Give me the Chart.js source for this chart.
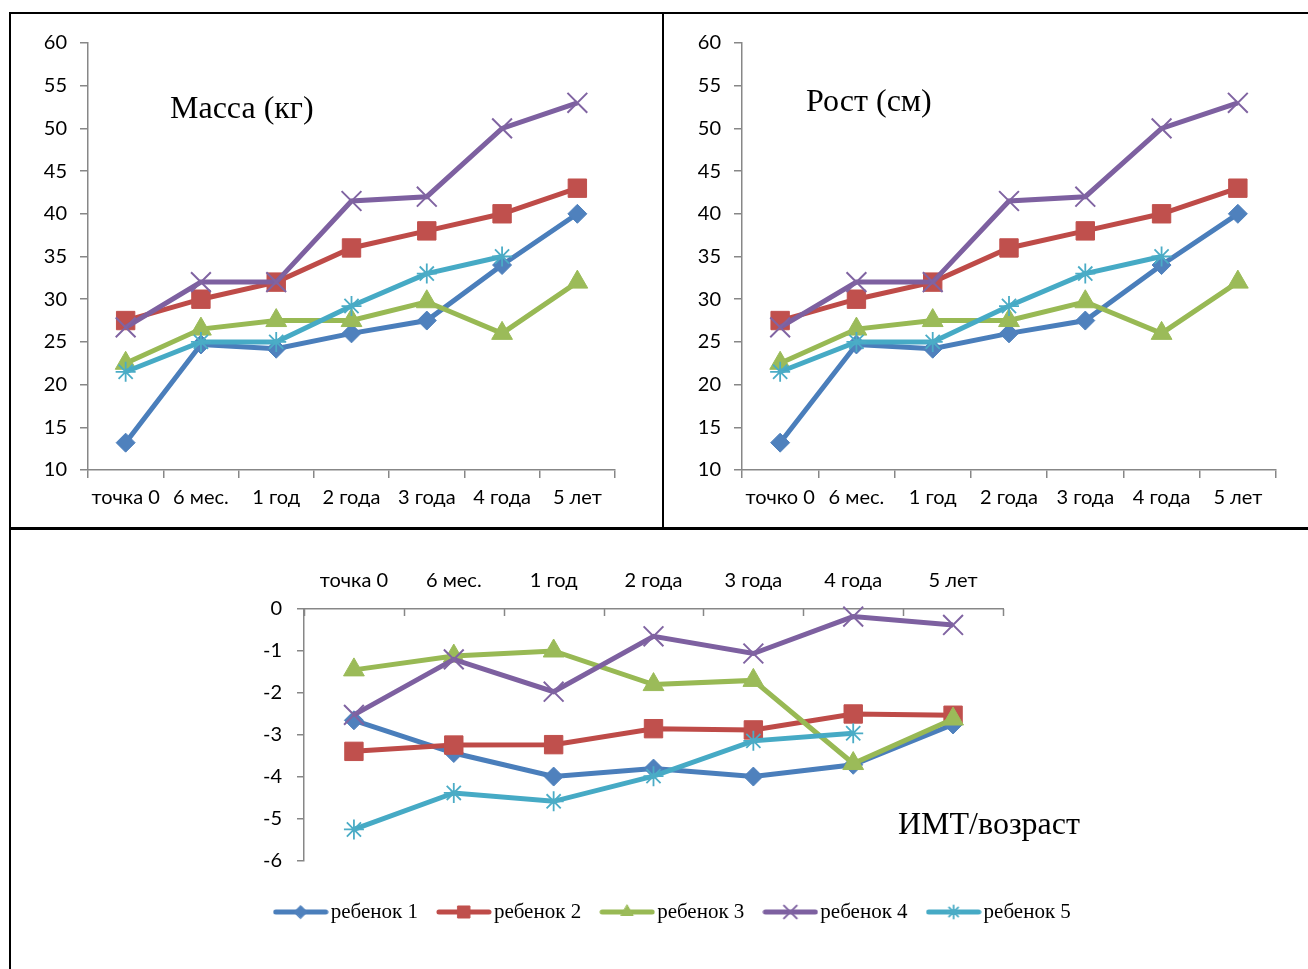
<!DOCTYPE html>
<html lang="ru">
<head>
<meta charset="utf-8">
<title>Масса, рост и ИМТ/возраст</title>
<script src="https://cdn.jsdelivr.net/npm/chart.js@4.4.1/dist/chart.umd.min.js"></script>
<style>
  html, body { margin: 0; padding: 0; background: #fff; overflow: hidden; }
  body { width: 1308px; height: 969px; position: relative; }
  .rule { position: absolute; background: #000; }
  canvas { position: absolute; }
  .title { position: absolute; font-family: "Liberation Serif", "Times New Roman", serif;
           font-size: 32px; line-height: 32px; color: #000; white-space: nowrap; }
</style>
</head>
<body>
<!-- panel frame -->
<div class="rule" style="left:9px;top:12px;width:1299px;height:2px"></div>
<div class="rule" style="left:9px;top:12px;width:2px;height:957px"></div>
<div class="rule" style="left:662px;top:12px;width:2px;height:516px"></div>
<div class="rule" style="left:9px;top:527px;width:1299px;height:2.5px"></div>

<canvas id="massChart" width="648" height="510" style="left:12px;top:15px"></canvas>
<canvas id="heightChart" width="643" height="510" style="left:665px;top:15px"></canvas>
<canvas id="bmiChart" width="1296" height="439" style="left:12px;top:530px"></canvas>

<div class="title" style="left:170px;top:91px">Масса (кг)</div>
<div class="title" style="left:806px;top:84px">Рост (см)</div>
<div class="title" style="left:898px;top:807px">ИМТ/возраст</div>

<script>
// ---- data ----
const periodsMass   = ['точка 0', '6 мес.', '1 год', '2 года', '3 года', '4 года', '5 лет'];
const periodsHeight = ['точко 0', '6 мес.', '1 год', '2 года', '3 года', '4 года', '5 лет'];
const periodsBmi    = ['точка 0', '6 мес.', '1 год', '2 года', '3 года', '4 года', '5 лет'];
const childNames = ['ребенок 1', 'ребенок 2', 'ребенок 3', 'ребенок 4', 'ребенок 5'];

const massChild1 = [13.2, 24.7, 24.2, 26.0, 27.5, 34.0, 40.0];
const massChild2 = [27.5, 30.0, 32.0, 36.0, 38.0, 40.0, 43.0];
const massChild3 = [22.5, 26.5, 27.5, 27.5, 29.7, 26.0, 32.0];
const massChild4 = [26.7, 32.0, 32.0, 41.5, 42.0, 50.0, 53.0];
const massChild5 = [21.5, 25.0, 25.0, 29.2, 33.0, 35.0, null];

const heightChild1 = [13.2, 24.7, 24.2, 26.0, 27.5, 34.0, 40.0];
const heightChild2 = [27.5, 30.0, 32.0, 36.0, 38.0, 40.0, 43.0];
const heightChild3 = [22.5, 26.5, 27.5, 27.5, 29.7, 26.0, 32.0];
const heightChild4 = [26.7, 32.0, 32.0, 41.5, 42.0, 50.0, 53.0];
const heightChild5 = [21.5, 25.0, 25.0, 29.2, 33.0, 35.0, null];

const bmiChild1 = [-2.65, -3.43, -3.99, -3.80, -3.99, -3.71, -2.75];
const bmiChild2 = [-3.39, -3.24, -3.23, -2.85, -2.88, -2.50, -2.53];
const bmiChild3 = [-1.45, -1.12, -1.00, -1.80, -1.70, -3.68, -2.62];
const bmiChild4 = [-2.52, -1.20, -1.97, -0.65, -1.06, -0.18, -0.38];
const bmiChild5 = [-5.25, -4.38, -4.58, -3.98, -3.14, -2.96, null];

const topTicks = { min: 10, max: 60, step: 5 };
const bmiTicks = { min: -6, max: 0, step: 1 };

// ---- styling ----
const AXIS = '#878787';
const TICK_FONT = { family: 'Lato, "Open Sans", sans-serif', size: 20 };
const seriesStyle = [
  { line: '#4A7EBB', fill: '#4F81BD', point: 'rectRot',  r: 9.5, bw: 1, lr: 6.5 },
  { line: '#BE4B48', fill: '#C0504D', point: 'rect',     r: 13,  bw: 1, lr: 8.5 },
  { line: '#98B954', fill: '#9BBB59', point: 'triangle', r: 12,  bw: 1, lr: 7 },
  { line: '#7D60A0', fill: '#8064A2', point: 'crossRot', r: 14,  bw: 2, lr: 9 },
  { line: '#46AAC5', fill: '#4BACC6', point: 'star',     r: 10,  bw: 1.8, lr: 6.5 }
];

function makeDatasets(seriesList) {
  return seriesList.map((values, i) => {
    const s = seriesStyle[i];
    return {
      label: childNames[i],
      data: values,
      borderColor: s.line,
      borderWidth: 5,
      backgroundColor: s.fill,
      pointStyle: s.point,
      pointRadius: s.r,
      pointBorderColor: s.fill,
      pointBackgroundColor: s.fill,
      pointBorderWidth: s.bw,
      tension: 0,
      clip: false,
      order: seriesList.length - i   // later series drawn on top
    };
  });
}

function fixedWidth(w) { return scale => { scale.width = w; }; }
function fixedHeight(h) { return scale => { scale.height = h; }; }

function topChart(id, labels, seriesList, yWidth, padRight) {
  return new Chart(document.getElementById(id), {
    type: 'line',
    data: { labels, datasets: makeDatasets(seriesList) },
    options: {
      responsive: false,
      animation: false,
      events: [],
      devicePixelRatio: 1,
      layout: { padding: { left: 0, right: padRight, top: 28, bottom: 0 } },
      plugins: { legend: { display: false }, tooltip: { enabled: false } },
      scales: {
        x: {
          type: 'category',
          offset: true,
          grid: { display: true, drawOnChartArea: false, drawTicks: true, tickLength: 8,
                  offset: true, color: AXIS, lineWidth: 1.5 },
          border: { display: true, color: AXIS, width: 1.5 },
          ticks: { color: '#000', font: TICK_FONT, padding: 8, maxRotation: 0, autoSkip: false },
          afterFit: fixedHeight(55)
        },
        y: {
          min: topTicks.min, max: topTicks.max,
          grid: { drawOnChartArea: false, drawTicks: true, tickLength: 8, color: AXIS, lineWidth: 1.5 },
          border: { display: true, color: AXIS, width: 1.5 },
          ticks: { stepSize: topTicks.step, color: '#000', font: TICK_FONT, padding: 13 },
          afterFit: fixedWidth(yWidth)
        }
      }
    }
  });
}

topChart('massChart', periodsMass,
  [massChild1, massChild2, massChild3, massChild4, massChild5], 76, 45);
topChart('heightChart', periodsHeight,
  [heightChild1, heightChild2, heightChild3, heightChild4, heightChild5], 77, 32);

// legend sample: a short stroke of the series line with its marker in the middle
function legendSample(s) {
  const c = document.createElement('canvas');
  c.width = 56; c.height = 22;
  const ctx = c.getContext('2d');
  ctx.strokeStyle = s.line;
  ctx.lineWidth = 5;
  ctx.lineCap = 'round';
  ctx.beginPath(); ctx.moveTo(3, 11); ctx.lineTo(53, 11); ctx.stroke();
  ctx.fillStyle = s.fill;
  ctx.strokeStyle = s.fill;
  ctx.lineWidth = s.bw;
  Chart.helpers.drawPoint(ctx, { pointStyle: s.point, radius: s.lr, rotation: 0, borderWidth: s.bw }, 28, 11);
  return c;
}

// short tick marks hanging below the top category axis
const hangingTicks = {
  id: 'hangingTicks',
  beforeDatasetsDraw(chart) {
    const xs = chart.scales.x, ctx = chart.ctx, top = chart.chartArea.top;
    ctx.save();
    ctx.strokeStyle = AXIS;
    ctx.lineWidth = 1.5;
    for (let i = 0; i <= xs.ticks.length; i++) {
      const px = Math.round(xs.getPixelForValue(i - 0.5)) + 0.5;
      ctx.beginPath(); ctx.moveTo(px, top); ctx.lineTo(px, top + 7); ctx.stroke();
    }
    ctx.restore();
  }
};

new Chart(document.getElementById('bmiChart'), {
  type: 'line',
  data: { labels: periodsBmi,
          datasets: makeDatasets([bmiChild1, bmiChild2, bmiChild3, bmiChild4, bmiChild5]) },
  plugins: [hangingTicks],
  options: {
    responsive: false,
    animation: false,
    events: [],
    devicePixelRatio: 1,
    layout: { padding: { left: 32, right: 0, top: 0, bottom: 36.5 } },
    plugins: {
      tooltip: { enabled: false },
      legend: {
        position: 'bottom',
        align: 'center',
        title: { display: true, text: '', padding: 0, font: { size: 11.7 } },
        labels: {
          usePointStyle: true,
          pointStyleWidth: 39,
          padding: 26.5,
          color: '#000',
          font: { family: '"Liberation Serif", "Times New Roman", serif', size: 21 },
          generateLabels: chart => chart.data.datasets.map((ds, i) => ({
            text: ds.label,
            fontColor: '#000',
            pointStyle: legendSample(seriesStyle[i]),
            fillStyle: seriesStyle[i].fill,
            strokeStyle: seriesStyle[i].fill,
            lineWidth: 0,
            hidden: false,
            datasetIndex: i
          }))
        }
      }
    },
    scales: {
      x: {
        type: 'category',
        position: 'top',
        offset: true,
        grid: { display: false, drawTicks: false },
        border: { display: true, color: AXIS, width: 1.5 },
        ticks: { color: '#000', font: TICK_FONT, padding: 16, maxRotation: 0, autoSkip: false },
        afterFit: fixedHeight(79)
      },
      y: {
        min: bmiTicks.min, max: bmiTicks.max,
        grid: { drawOnChartArea: false, drawTicks: true, tickLength: 7, color: AXIS, lineWidth: 1.5 },
        border: { display: true, color: AXIS, width: 1.5 },
        ticks: { stepSize: bmiTicks.step, color: '#000', font: TICK_FONT, padding: 15 },
        afterFit: fixedWidth(260)
      },
      side: {
        type: 'linear',
        position: 'right',
        display: true,
        grid: { display: false, drawTicks: false },
        border: { display: false },
        ticks: { display: false },
        afterFit: fixedWidth(305)
      }
    }
  }
});
</script>
</body>
</html>
